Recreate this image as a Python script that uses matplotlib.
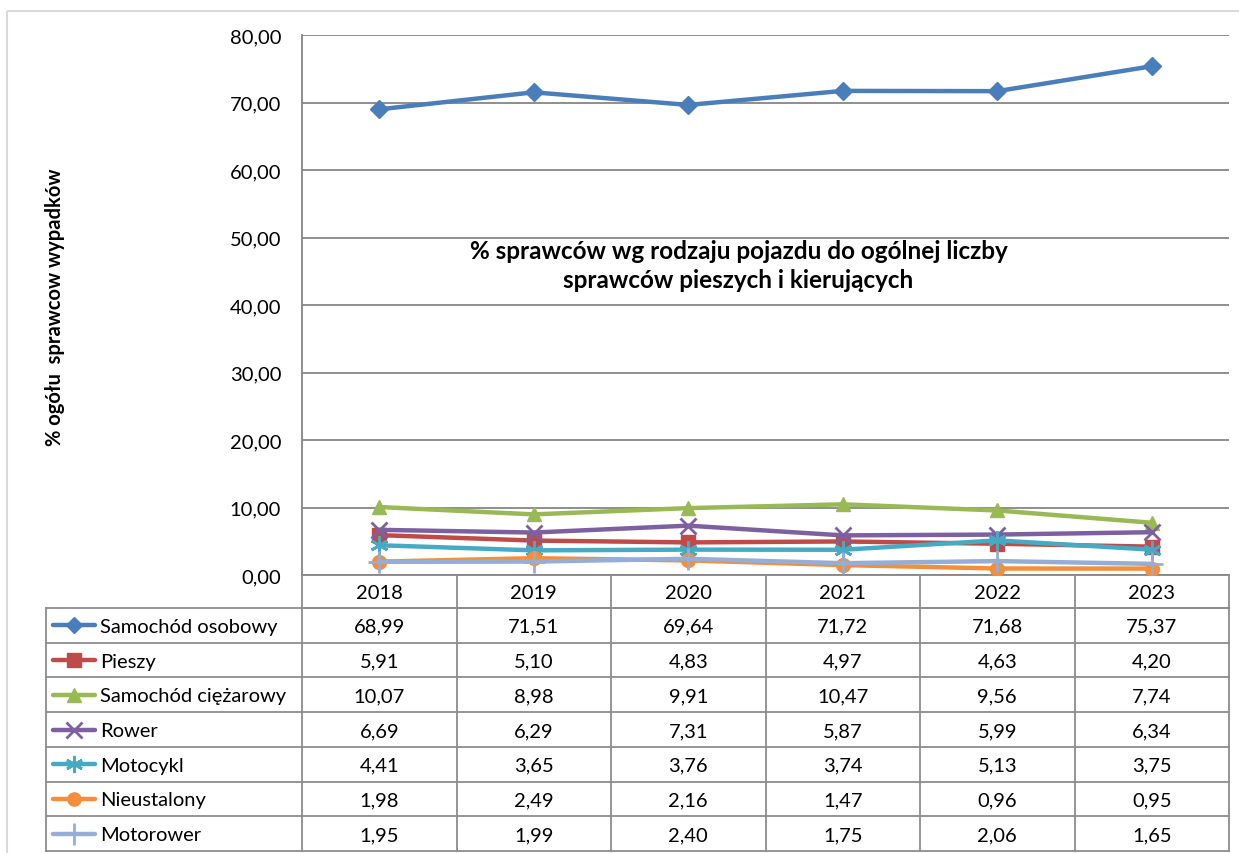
import matplotlib
matplotlib.use("Agg")
import matplotlib.pyplot as plt
from matplotlib.lines import Line2D
from matplotlib.patches import Rectangle

years = ["2018", "2019", "2020", "2021", "2022", "2023"]
series_names = ["Samochód osobowy", "Pieszy", "Samochód ciężarowy", "Rower",
                "Motocykl", "Nieustalony", "Motorower"]
samochod_osobowy = [68.99, 71.51, 69.64, 71.72, 71.68, 75.37]
pieszy = [5.91, 5.10, 4.83, 4.97, 4.63, 4.20]
samochod_ciezarowy = [10.07, 8.98, 9.91, 10.47, 9.56, 7.74]
rower = [6.69, 6.29, 7.31, 5.87, 5.99, 6.34]
motocykl = [4.41, 3.65, 3.76, 3.74, 5.13, 3.75]
nieustalony = [1.98, 2.49, 2.16, 1.47, 0.96, 0.95]
motorower = [1.95, 1.99, 2.40, 1.75, 2.06, 1.65]
all_values = [samochod_osobowy, pieszy, samochod_ciezarowy, rower,
              motocykl, nieustalony, motorower]
y_ticks = [0, 10, 20, 30, 40, 50, 60, 70, 80]

colors = ["#4A7EBB", "#BE4B48", "#98B954", "#7D60A0", "#46AAC5", "#F28E3C", "#94AED6"]
markers = ["D", "s", "^", "x", (6, 2, 0), "o", "+"]
msizes = [9, 10, 10, 12, 13, 10, 16]

FONT = ["Lato", "DejaVu Sans"]
plt.rcParams['font.family'] = FONT

W, H = 1239, 854
fig = plt.figure(figsize=(W / 100, H / 100), dpi=100)

def fx(px):
    return px / W

def fy(py):
    return 1 - py / H

# outer chart border
bg = fig.add_axes([0, 0, 1, 1])
bg.set_xlim(0, W)
bg.set_ylim(H, 0)
bg.axis("off")
bg.add_patch(Rectangle((7, 12), W + 20, H + 20, fill=False, ec="#D9D9D9", lw=1.5))

L, R, T, B = 302, 1229, 36, 576
ax = fig.add_axes([fx(L), fy(B), fx(R) - fx(L), fy(T) - fy(B)])
n = len(years)
xs = list(range(n))
for vals, c, m, ms in zip(all_values, colors, markers, msizes):
    mew = 2 if m in ("x", "+") or isinstance(m, tuple) else 1
    ax.plot(xs, vals, color=c, lw=3.2, marker=m, markersize=ms,
            markerfacecolor=c, markeredgecolor=c, markeredgewidth=mew,
            solid_joinstyle="round", zorder=3)
ax.set_xlim(-0.5, n - 0.5)
ax.set_ylim(0, 80)
ax.set_yticks(y_ticks)
ax.set_yticklabels([f"{v:.2f}".replace(".", ",") for v in y_ticks], fontsize=14.5)
ax.set_xticks([])
ax.tick_params(axis="y", length=0, pad=15)
ax.yaxis.grid(True, color="#868686", lw=1.3)
ax.set_axisbelow(True)
for s in ["top", "right"]:
    ax.spines[s].set_visible(False)
ax.spines["left"].set_color("#868686")
ax.spines["left"].set_linewidth(1.3)
ax.spines["bottom"].set_color("#868686")
ax.spines["bottom"].set_linewidth(1.3)

ax.text(0.471, 0.574, "% sprawców wg rodzaju pojazdu do ogólnej liczby\nsprawców pieszych i kierujących",
        transform=ax.transAxes, ha="center", va="center", fontsize=17.5,
        fontweight="bold", linespacing=1.3)

fig.text(fx(55), fy(307), "% ogółu  sprawcow wypadków", rotation=90,
         ha="center", va="center", fontsize=14.5, fontweight="bold")

# data table
tb = fig.add_axes([0, 0, 1, 1])
tb.set_xlim(0, W)
tb.set_ylim(H, 0)
tb.axis("off")
gc = "#8C8C8C"
TL = 46
head_bot = 609
row_h = (852 - head_bot) / len(series_names)
col_w = (R - L) / n
FS = 14.5
# header row
tb.plot([L, R], [head_bot, head_bot], color=gc, lw=1.3)
for j in range(n + 1):
    x = L + j * col_w
    tb.plot([x, x], [B, 852], color=gc, lw=1.3)
for j, yr in enumerate(years):
    tb.text(L + (j + 0.5) * col_w, (B + head_bot) / 2 + 1, yr, ha="center",
            va="center", fontsize=FS)
# body rows
for i in range(len(series_names) + 1):
    y = head_bot + i * row_h
    tb.plot([TL, R], [y, y], color=gc, lw=1.3)
tb.plot([TL, TL], [head_bot, 852], color=gc, lw=1.3)
for i, (name, vals, c, m, ms) in enumerate(zip(series_names, all_values, colors, markers, msizes)):
    yc = head_bot + (i + 0.5) * row_h
    mew = 2 if m in ("x", "+") or isinstance(m, tuple) else 1
    tb.add_line(Line2D([53, 95], [yc, yc], color=c, lw=3.2, solid_capstyle="round"))
    tb.add_line(Line2D([74], [yc], color=c, marker=m, markersize=ms * 0.95,
                       markerfacecolor=c, markeredgecolor=c, markeredgewidth=mew))
    tb.text(100, yc + 1, name, ha="left", va="center", fontsize=FS)
    for j, v in enumerate(vals):
        tb.text(L + (j + 0.5) * col_w, yc + 1, f"{v:.2f}".replace(".", ","),
                ha="center", va="center", fontsize=FS)

fig.savefig("out.png", dpi=100, facecolor="white")
